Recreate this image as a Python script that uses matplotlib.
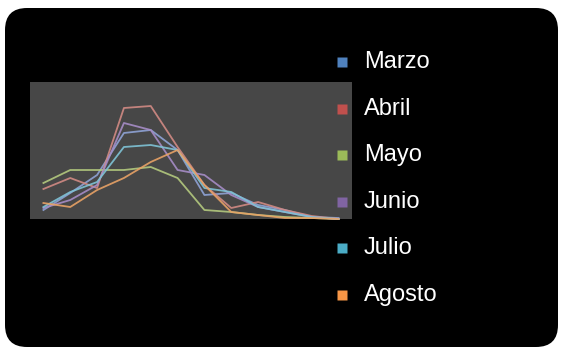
import matplotlib
matplotlib.use("Agg")
import matplotlib.pyplot as plt
from matplotlib.patches import FancyBboxPatch
from matplotlib.lines import Line2D

# monthly curves, 12 points each
months = ["Marzo", "Abril", "Mayo", "Junio", "Julio", "Agosto"]
marzo = [9, 26, 44, 86, 89, 69, 24, 26, 14, 9, 2, 1]
abril = [30, 41, 31, 111, 113, 72, 34, 11, 17, 9, 3, 0]
mayo = [36, 49, 49, 49, 52, 41, 9, 7, 4, 2, 1, 0]
junio = [11, 19, 34, 96, 89, 49, 44, 24, 12, 7, 2, 0]
julio = [12, 27, 37, 72, 74, 69, 31, 27, 12, 7, 2, 0]
agosto = [16, 12, 29, 41, 57, 69, 34, 7, 4, 1, 1, 0]
series = [marzo, abril, mayo, junio, julio, agosto]

line_colors = ["#8fa3d6", "#d18a84", "#b3c97e", "#a68cc6", "#7fc3d6", "#e8a266"]
key_colors = ["#4f81bd", "#c0504d", "#9bbb59", "#8064a2", "#4bacc6", "#f79646"]

plt.rcParams['font.family'] = ['Liberation Sans', 'DejaVu Sans']

fig = plt.figure(figsize=(5.63, 3.5), dpi=100, facecolor="white")

# black rounded panel behind everything
panel = FancyBboxPatch((0.05, 0.03), 5.53, 3.39,
                       boxstyle="round,pad=0,rounding_size=0.22",
                       transform=fig.dpi_scale_trans,
                       facecolor="black", edgecolor="none", zorder=0)
fig.patches.append(panel)

ax = fig.add_axes([30 / 563, 1 - 219 / 350, 322 / 563, 137 / 350])
ax.set_zorder(2)
ax.set_facecolor("#474747")
for vals, c in zip(series, line_colors):
    ax.plot(range(len(vals)), vals, color=c, lw=1.3, alpha=0.9, clip_on=False)
ax.set_xlim(-0.5, 11.5)
ax.set_ylim(0, 137)
ax.set_xticks([])
ax.set_yticks([])
for s in ax.spines.values():
    s.set_visible(False)

# legend on the right
for i, (name, c) in enumerate(zip(months, key_colors)):
    y = 1 - (62 + i * 46.6) / 350
    fig.add_artist(Line2D([342 / 563], [y], marker="s", markersize=6.5,
                          color=c, markeredgecolor="none",
                          transform=fig.transFigure, zorder=3))
    fig.text(364 / 563, y, name, color="white", fontsize=17,
             va="center", ha="left", zorder=3)

fig.savefig("out.png", dpi=100, facecolor="white")
